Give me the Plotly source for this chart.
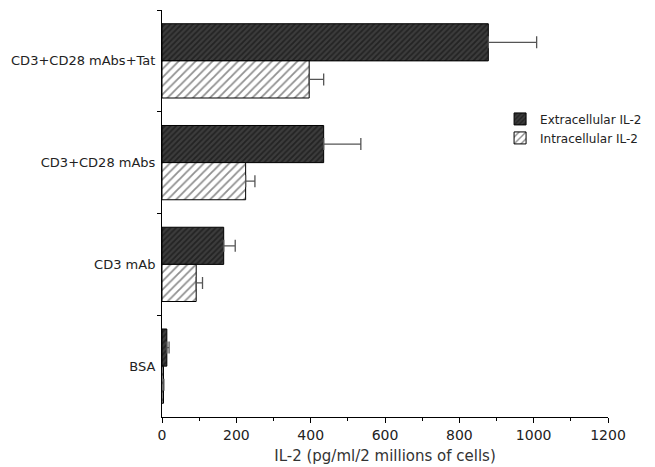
import plotly.graph_objects as go

categories = ["CD3+CD28 mAbs+Tat", "CD3+CD28 mAbs", "CD3 mAb", "BSA"]
extracellular = [878, 435, 166, 13]
extracellular_err = [130, 100, 31, 6]
intracellular = [396, 225, 92, 4]
intracellular_err = [39, 25, 17, 1]
x_ticks = [0, 200, 400, 600, 800, 1000, 1200]

fig = go.Figure()
fig.add_trace(go.Bar(
    y=categories, x=extracellular, orientation="h", name="Extracellular IL-2",
    marker=dict(color="#333", line=dict(color="black", width=1),
                pattern=dict(shape="/", fgcolor="#0a0a0a", bgcolor="#3c3c3c", size=4, solidity=0.45)),
    error_x=dict(type="data", array=extracellular_err, arrayminus=[0]*4, symmetric=False,
                 color="#555", thickness=1.3, width=6),
))
fig.add_trace(go.Bar(
    y=categories, x=intracellular, orientation="h", name="Intracellular IL-2",
    marker=dict(color="white", line=dict(color="black", width=1),
                pattern=dict(shape="/", fgcolor="#222", bgcolor="white", size=6, solidity=0.3)),
    error_x=dict(type="data", array=intracellular_err, arrayminus=[0]*4, symmetric=False,
                 color="#555", thickness=1.3, width=6),
))

font = "DejaVu Sans, Verdana, sans-serif"
# page body has an 8px default margin, so the figure is sized to fit the window
fig.update_layout(
    width=647, height=459,
    margin=dict(l=154, r=47, t=2, b=50),
    paper_bgcolor="white", plot_bgcolor="white",
    barmode="group", bargap=0.27, bargroupgap=0,
    font=dict(family=font, size=13, color="#222"),
    showlegend=True,
    legend=dict(x=0.758, y=0.768, xanchor="left", yanchor="top",
                bgcolor="rgba(0,0,0,0)", font=dict(size=12),
                itemwidth=30, tracegroupgap=2),
    xaxis=dict(range=[0, 1200], tickvals=x_ticks, ticks="outside", ticklen=5,
               showline=True, linecolor="black", linewidth=1, showgrid=False, zeroline=False,
               minor=dict(dtick=100, ticks="outside", ticklen=3, tickcolor="black"),
               tickcolor="black", tickfont=dict(size=14), automargin=False,
               title=dict(text="IL-2 (pg/ml/2 millions of cells)", standoff=8,
                          font=dict(size=15, color="#333"))),
    yaxis=dict(type="category", categoryorder="array", categoryarray=categories,
               autorange="reversed", ticks="outside", ticklen=4, tickson="boundaries",
               tickcolor="black", automargin=False,
               showline=True, linecolor="black", linewidth=1, showgrid=False,
               ticklabelstandoff=3),
)

fig.write_html("out.html")
